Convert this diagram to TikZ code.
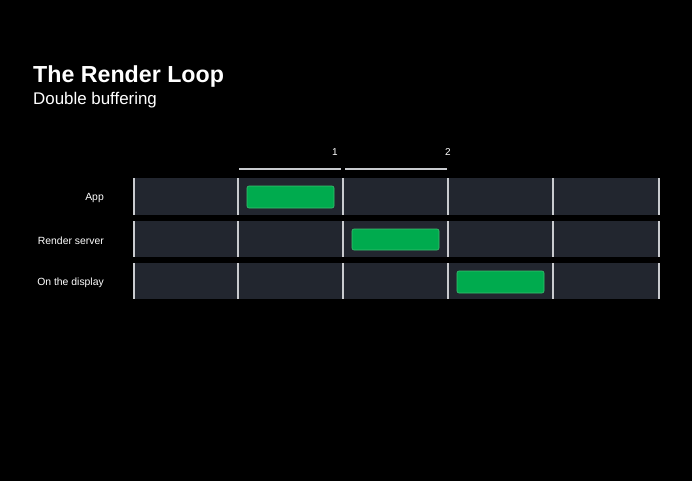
\documentclass[tikz,border=0pt]{standalone}
\usepackage{fontspec}
\setmainfont{Liberation Sans}
\definecolor{rowfill}{HTML}{22262F}
\definecolor{sepline}{HTML}{C9CBCF}
\definecolor{barg}{HTML}{00AB4E}
\definecolor{bargb}{HTML}{3CC070}
\begin{document}
\begin{tikzpicture}[x=1pt,y=-1pt,
  rowbox/.style={fill=rowfill,draw=none},
  vsep/.style={draw=sepline,line width=1.8pt},
  greenbox/.style={fill=barg,draw=bargb,line width=0.6pt,rounded corners=2pt},
  rowlabel/.style={text=white,font=\fontsize{10.4}{12}\selectfont,anchor=east,inner sep=0pt},
  frameline/.style={draw=sepline,line width=1.6pt},
  framelabel/.style={text=white,font=\fontsize{10}{12}\selectfont,inner sep=0pt}]
\fill[black] (0,0) rectangle (692,481);
\useasboundingbox (0,0) rectangle (692,481);
% title
\node[anchor=base west,text=white,inner sep=0pt,font=\bfseries\fontsize{23.2}{26}\selectfont] (title) at (33,83) {The Render Loop};
\node[anchor=base west,text=white,inner sep=0pt,font=\fontsize{16.9}{19}\selectfont] (subtitle) at (33,105) {Double buffering};
% rows
\fill[rowbox] (133,178) rectangle (659,215);
\fill[rowbox] (133,221) rectangle (659,257);
\fill[rowbox] (133,263) rectangle (659,299);
% vertical separators
\foreach \x in {134,238,343,448,553,659}{
  \draw[vsep] (\x,178) -- (\x,215);
  \draw[vsep] (\x,221) -- (\x,257);
  \draw[vsep] (\x,263) -- (\x,299);
}
% row labels
\node[rowlabel] (lapp) at (104,198.5) {App};
\node[rowlabel] (lrs) at (104,241) {Render server};
\node[rowlabel] (ldisp) at (104,282.5) {On the display};
% frame markers
\coordinate (f1a) at (239,169); \coordinate (f1b) at (341,169);
\coordinate (f2a) at (345,169); \coordinate (f2b) at (447,169);
\draw[frameline] (f1a) -- (f1b);
\draw[frameline] (f2a) -- (f2b);
\node[framelabel] (n1) at (335,152) {1};
\node[framelabel] (n2) at (448,152) {2};
% green boxes
\draw[greenbox] (247,186) rectangle (334,208);
\draw[greenbox] (352,229) rectangle (439,250);
\draw[greenbox] (457,271) rectangle (544,293);
\end{tikzpicture}
\end{document}
